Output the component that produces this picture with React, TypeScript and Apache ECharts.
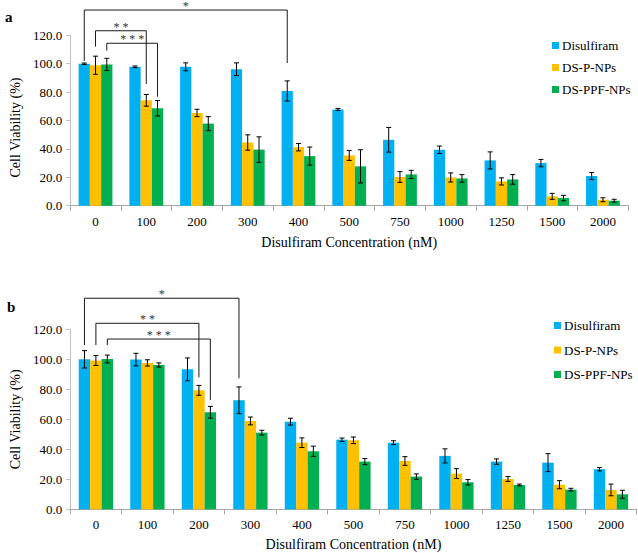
import React, { useEffect, useRef } from 'react';
import * as echarts from 'echarts';

// ---- data ----
const concentrations = ['0', '100', '200', '300', '400', '500', '750', '1000', '1250', '1500', '2000'];
const seriesNames = ['Disulfiram', 'DS-P-NPs', 'DS-PPF-NPs'];
const yTicks = [0, 20, 40, 60, 80, 100, 120];

// panel a
const aDisulfiram = [100, 97.8, 97.8, 96.1, 80.8, 67.8, 46.4, 39.4, 31.9, 30.0, 20.9];
const aDisulfiramErr = [0.5, 0.6, 2.8, 4.5, 7.1, 0.7, 8.7, 2.6, 6.0, 2.6, 2.5];
const aDSP = [98.9, 74.2, 65.3, 44.5, 41.2, 35.4, 20.2, 19.9, 17.1, 6.6, 4.2];
const aDSPErr = [6.4, 4.1, 2.6, 5.4, 2.6, 3.5, 3.8, 3.2, 2.5, 2.1, 1.4];
const aDSPPF = [99.5, 68.6, 57.8, 39.5, 34.9, 27.7, 22.0, 19.2, 18.5, 5.4, 3.5];
const aDSPPFErr = [4.3, 5.4, 4.9, 9.0, 6.4, 11.7, 2.9, 2.7, 3.4, 1.9, 1.0];

// panel b
const bDisulfiram = [100, 99.8, 93.3, 72.7, 58.4, 46.4, 44.4, 35.6, 31.8, 31.1, 26.7];
const bDisulfiramErr = [5.8, 4.2, 7.6, 8.9, 2.3, 1.1, 1.3, 4.7, 1.8, 6.0, 1.1];
const bDSP = [99.2, 97.6, 79.3, 58.9, 44.4, 46.0, 32.2, 23.8, 20.2, 16.4, 12.9];
const bDSPErr = [3.3, 2.1, 3.3, 2.6, 3.2, 2.2, 2.9, 3.3, 1.6, 2.7, 3.9];
const bDSPPF = [100.2, 96.2, 64.7, 51.1, 38.7, 31.8, 21.8, 18.0, 16.2, 13.1, 10.0];
const bDSPPFErr = [2.6, 1.4, 3.9, 1.6, 3.4, 2.0, 1.8, 1.8, 0.6, 0.9, 2.7];

// significance brackets: [category, series, leg end value] for each leg, top level value
const aBrackets = [
  { label: '*', left: [0, 0, 101.9], right: [4, 0, 100.5], top: 137.8 },
  { label: '**', left: [0, 1, 112], right: [1, 1, 85.7], top: 123.2 },
  { label: '***', left: [0, 2, 109.2], right: [1, 2, 76.8], top: 114.4 },
];
const bBrackets = [
  { label: '*', left: [0, 0, 109.5], right: [3, 0, 87.3], top: 140.7 },
  { label: '**', left: [0, 1, 109.5], right: [2, 1, 88], top: 124 },
  { label: '***', left: [0, 2, 109.5], right: [2, 2, 72.9], top: 113.5 },
];

const COLORS = ['#00B0F0', '#FFC000', '#00B050'];
const FONT = 'Liberation Serif';
const GAP = 0.334;

const panels = [
  { values: [aDisulfiram, aDSP, aDSPPF], errs: [aDisulfiramErr, aDSPErr, aDSPPFErr], brackets: aBrackets },
  { values: [bDisulfiram, bDSP, bDSPPF], errs: [bDisulfiramErr, bDSPErr, bDSPPFErr], brackets: bBrackets },
];

export default function App() {
  const ref = useRef<HTMLDivElement>(null);
  useEffect(() => {
    if (!ref.current) return;
    const chart = echarts.init(ref.current, null, { renderer: 'svg' });

    const grids = [
      { left: 58.3, right: 9.7, top: 35.3, bottom: 347.3 },
      { left: 60.7, right: 1.3, top: 329.3, bottom: 43.7 },
    ];
    const xAxes = grids.map((_, g) => ({
      type: 'category',
      gridIndex: g,
      data: concentrations,
      boundaryGap: true,
      name: 'Disulfiram Concentration (nM)',
      nameLocation: 'middle',
      nameGap: g === 0 ? 30 : 28,
      nameTextStyle: { fontFamily: FONT, fontSize: 14, color: '#000' },
      axisLine: { lineStyle: { color: '#a6a6a6', width: 1 } },
      axisTick: { show: true, length: 5, lineStyle: { color: '#a6a6a6' } },
      axisLabel: { fontFamily: FONT, fontSize: 13, color: '#000', margin: 9 },
    }));
    const yAxes = grids.map((_, g) => ({
      type: 'value',
      gridIndex: g,
      min: yTicks[0],
      max: yTicks[yTicks.length - 1],
      interval: 20,
      name: 'Cell Viability (%)',
      nameLocation: 'middle',
      nameGap: g === 0 ? 40 : 42,
      nameTextStyle: {
        fontFamily: FONT,
        fontSize: 14,
        color: '#000',
        padding: g === 0 ? [0, 14, 0, 0] : [0, 0, 0, 0],
      },
      axisLine: { show: true, lineStyle: { color: '#bfbfbf', width: 1 } },
      axisTick: { show: true, length: 4, lineStyle: { color: '#bfbfbf' } },
      splitLine: { show: false },
      axisLabel: {
        fontFamily: FONT,
        fontSize: 13,
        color: '#000',
        margin: 8,
        formatter: (v: number) => v.toFixed(1),
      },
    }));

    const series: any[] = [];
    panels.forEach((p, g) => {
      p.values.forEach((vals, s) => {
        series.push({
          type: 'bar',
          name: seriesNames[s],
          xAxisIndex: g,
          yAxisIndex: g,
          data: vals,
          barGap: '0%',
          barCategoryGap: (GAP * 100).toFixed(1) + '%',
          itemStyle: { color: COLORS[s] },
        });
      });
      p.values.forEach((vals, s) => {
        series.push({
          type: 'custom',
          xAxisIndex: g,
          yAxisIndex: g,
          z: 10,
          data: vals.map((v, i) => [i, v, p.errs[s][i]]),
          encode: { x: 0, y: 1 },
          renderItem: (params: any, api: any) => {
            const c = api.value(0);
            const v = api.value(1);
            const e = api.value(2);
            const center = api.coord([c, v]);
            const catW = api.size([1, 0])[0];
            const bw = (catW * (1 - GAP)) / 3;
            const x = center[0] + (s - 1) * bw;
            const yt = api.coord([c, v + e])[1];
            const yb = api.coord([c, v - e])[1];
            const cap = 2.5;
            const st = { stroke: '#000', lineWidth: 1 };
            return {
              type: 'group',
              children: [
                { type: 'line', shape: { x1: x, y1: yt, x2: x, y2: yb }, style: st },
                { type: 'line', shape: { x1: x - cap, y1: yt, x2: x + cap, y2: yt }, style: st },
                { type: 'line', shape: { x1: x - cap, y1: yb, x2: x + cap, y2: yb }, style: st },
              ],
            };
          },
        });
      });
    });

    const legends = [
      { left: 547, top: 33.5, itemGap: 8 },
      { left: 549, top: 313.5, itemGap: 10.5 },
    ].map((l) => ({
      ...l,
      orient: 'vertical',
      data: seriesNames,
      icon: 'rect',
      itemWidth: 7,
      itemHeight: 7,
      selectedMode: false,
      textStyle: { fontFamily: FONT, fontSize: 13, color: '#000', lineHeight: 14, padding: [0, 0, 0, -2] },
    }));

    chart.setOption({
      animation: false,
      backgroundColor: '#fff',
      textStyle: { fontFamily: FONT },
      grid: grids,
      xAxis: xAxes,
      yAxis: yAxes,
      legend: legends,
      series,
    });

    // significance brackets and panel letters
    const graphic: any[] = [];
    panels.forEach((p, g) => {
      const finder = { xAxisIndex: g, yAxisIndex: g };
      const c0 = chart.convertToPixel(finder, [0, 0]) as number[];
      const c1 = chart.convertToPixel(finder, [1, 0]) as number[];
      const bw = ((c1[0] - c0[0]) * (1 - GAP)) / 3;
      p.brackets.forEach((b) => {
        const L = chart.convertToPixel(finder, [b.left[0], b.left[2]]) as number[];
        const R = chart.convertToPixel(finder, [b.right[0], b.right[2]]) as number[];
        const T = chart.convertToPixel(finder, [0, b.top]) as number[];
        const xl = L[0] + (b.left[1] - 1) * bw;
        const xr = R[0] + (b.right[1] - 1) * bw;
        graphic.push({
          type: 'polyline',
          shape: { points: [[xl, L[1]], [xl, T[1]], [xr, T[1]], [xr, R[1]]] },
          style: { stroke: '#1a1a1a', lineWidth: 1, fill: 'none' },
          z: 20,
        });
        graphic.push({
          type: 'text',
          x: (xl + xr) / 2,
          y: T[1] - 4,
          style: {
            text: b.label.split('').join(' '),
            fontFamily: FONT,
            fontSize: 12,
            lineHeight: 8,
            fill: '#333333',
            align: 'center',
            verticalAlign: 'middle',
          },
          z: 20,
        });
      });
    });
    graphic.push({
      type: 'text', x: 5, y: 16.5,
      style: { text: 'a', fontFamily: FONT, fontSize: 15, fontWeight: 'bold', fill: '#000', verticalAlign: 'middle' },
    });
    graphic.push({
      type: 'text', x: 7, y: 307,
      style: { text: 'b', fontFamily: FONT, fontSize: 15, fontWeight: 'bold', fill: '#000', verticalAlign: 'middle' },
    });
    chart.setOption({ graphic });

    return () => chart.dispose();
  }, []);
  return <div ref={ref} style={{ position: 'fixed', left: 0, top: 0, width: 638, height: 553 }} />;
}
